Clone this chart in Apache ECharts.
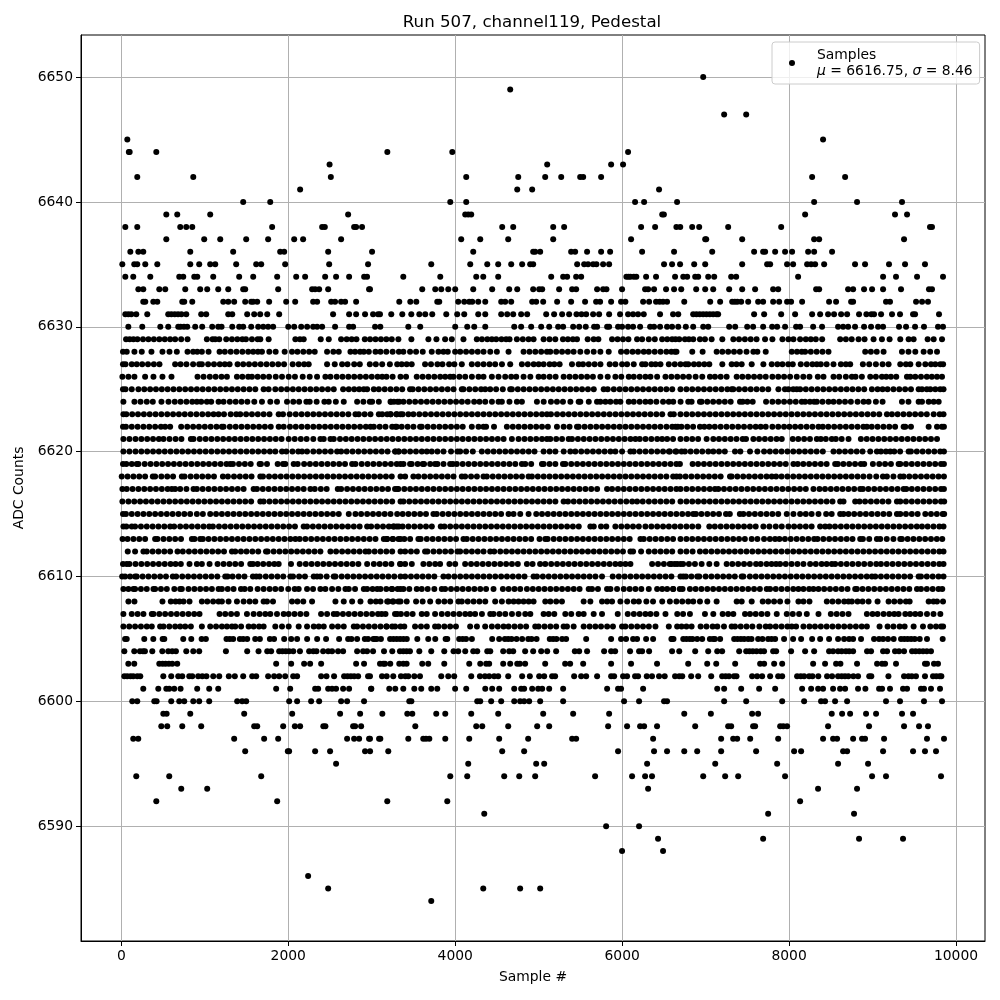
<!DOCTYPE html>
<html><head><meta charset="utf-8">
<script src="https://cdn.jsdelivr.net/npm/echarts@6/dist/echarts.min.js"></script>
<style>html,body{margin:0;padding:0;background:#fff}#c{width:1000px;height:1000px}</style>
</head><body><div id="c"></div>
<script>
const xTicks=[0,2000,4000,6000,8000,10000];
const yTicks=[6590,6600,6610,6620,6630,6640,6650];
const row6650=[6971];
const row6649=[4659];
const row6647=[7222,7486];
const row6645=[72,8407];
const row6644=[90,100,419,3187,3965,6071];
const row6643=[2495,5102,5868,6011];
const row6642=[191,862,2510,4132,4755,5078,5270,5497,5533,5748,8276,8671];
const row6641=[2142,4743,4922,6442];
const row6640=[1460,1784,3941,4132,6155,6263,6658,8300,8814,9353];
const row6639=[539,670,1065,2717,4120,4156,4192,6480,6500,8192,9269,9413];
const row6638=[48,191,706,778,850,1807,2406,2438,2789,2813,2884,4563,4695,5174,5305,6227,6395,6650,6696,6839,6923,7270,7905,9688,9712];
const row6637=[539,993,1185,1496,1759,2071,2178,2633,4072,4300,4635,5174,6107,6995,7007,7438,8300,8360,9377];
const row6636=[108,204,263,826,1340,1903,1951,2478,3004,4216,4934,4958,5018,5389,5437,5580,5748,5856,6239,6622,7079,7581,7689,7713,7833,7952,8036,8228,8300,8515];
const row6635=[12,155,191,287,431,826,933,1065,1125,1376,1616,1676,1963,2490,2956,3713,4180,4384,4515,4671,4802,4898,4934,5461,5545,5592,5652,5692,5772,5844,6502,6598,6694,6863,6995,7438,7737,7773,7976,8048,8216,8264,8312,8420,8790,8910,9197,9389,9628];
const row6634=[48,143,347,694,742,874,910,1101,1412,1580,1867,2095,2202,2442,2573,2729,2909,2944,3378,3821,4252,4336,4515,5150,5293,5341,5449,5509,6051,6075,6099,6140,6170,6287,6406,6634,6732,6779,6875,6911,7031,7103,7306,7366,8108,9126,9281,9533,9844];
const row6633=[204,263,455,526,766,945,1029,1161,1281,1460,1484,1879,2286,2322,2370,2478,2968,2979,3605,3761,3833,3917,4000,4216,4443,4647,4743,4934,5006,5042,5245,5401,5449,5700,5772,5812,5999,6275,6311,6382,6526,6622,6708,6887,6995,7091,7282,7438,7593,7809,7869,8324,8360,8707,8767,8898,8994,9126,9341,9676,9712];
const row6632=[263,287,383,431,730,754,850,1221,1281,1352,1484,1556,1580,1628,1771,1975,2083,2298,2346,2514,2561,2633,2681,2813,3330,3462,3534,3785,3809,4036,4108,4168,4204,4276,4360,4551,4599,4671,4922,4970,5054,5221,5389,5556,5688,5736,5868,5987,6039,6251,6323,6406,6450,6490,6538,6744,7055,7174,7318,7350,7380,7426,7510,7629,7689,7809,7881,7976,8024,8156,8479,8563,8743,8767,9161,9209,9521,9593,9664];
const row6631=[48,84,120,179,311,562,600,640,680,720,778,957,1017,1281,1329,1508,1592,1664,1748,1891,2537,2729,2813,2920,3016,3076,3099,3234,3366,3474,3570,3641,3725,3893,4024,4108,4276,4360,4551,4623,4695,4790,4862,5090,5185,5281,5365,5453,5513,5569,5652,5724,5844,5975,6071,6131,6191,6259,6454,6610,6672,6851,6890,6930,6970,7010,7050,7090,7130,7150,7581,7701,7905,8072,8276,8372,8467,8539,8623,8695,8838,8926,8986,9018,9102,9233,9329,9485,9509,9796];
const row6630=[84,251,467,562,682,710,750,790,885,969,1089,1161,1201,1329,1412,1460,1556,1640,1700,1759,1819,2000,2071,2155,2226,2298,2346,2406,2561,2729,2777,3040,3103,3438,3581,4000,4144,4228,4360,4707,4790,4910,5030,5126,5233,5293,5413,5485,5564,5664,5700,5820,5844,5951,5999,6071,6131,6215,6335,6382,6454,6538,6598,6672,6763,6851,6971,7031,7282,7354,7498,7569,7689,7797,7857,7952,8084,8132,8288,8395,8587,8647,8707,8790,8898,8982,9066,9126,9317,9401,9509,9616,9784,9844];
const row6629=[57,100,145,193,260,325,390,455,520,585,645,717,793,1025,1093,1125,1173,1257,1325,1390,1450,1493,1565,1633,1665,1765,2085,2140,2185,2389,2485,2633,2700,2760,2817,2917,2980,3045,3110,3175,3240,3319,3475,3679,3775,3879,3959,4099,4259,4320,4385,4439,4491,4555,4610,4651,4739,4810,4879,4939,5059,5130,5199,5291,5350,5410,5459,5587,5659,5715,5879,5945,6010,6075,6179,6239,6319,6391,6479,6540,6599,6639,6684,6752,6800,6852,6932,6992,7072,7200,7332,7400,7470,7540,7610,7712,7800,7920,7992,8052,8132,8200,8260,8320,8396,8612,8680,8750,8832,8904,9012,9112,9204,9332,9432,9492,9660,9732,9832];
const row6628=[20,65,157,245,361,493,577,665,793,860,910,965,1045,1177,1240,1310,1380,1450,1520,1580,1637,1685,1773,1849,1957,2045,2110,2180,2250,2317,2465,2540,2605,2745,2800,2860,2905,2965,3045,3105,3175,3250,3325,3379,3459,3531,3611,3719,3799,3859,3911,3999,4060,4130,4200,4270,4340,4420,4499,4639,4819,4890,4960,5030,5099,5139,5210,5280,5350,5419,5499,5580,5659,5739,5839,5987,6055,6125,6190,6259,6319,6390,6460,6530,6590,6651,6632,6840,6964,7132,7200,7270,7340,7410,7490,7572,7620,7720,8032,8095,8152,8192,8260,8330,8400,8472,8912,8980,9050,9132,9352,9430,9512,9612,9690,9772];
const row6627=[20,50,125,185,250,320,390,457,645,710,780,860,933,965,1040,1110,1180,1240,1297,1393,1460,1530,1600,1670,1740,1810,1880,1950,2053,2125,2190,2245,2465,2557,2645,2710,2790,2857,2977,3049,3125,3217,3305,3359,3419,3479,3639,3710,3787,3847,3927,3990,4079,4199,4270,4340,4411,4479,4560,4659,4799,4870,4940,5000,5059,5131,5187,5251,5399,5479,5531,5600,5670,5740,5851,5919,5999,6059,6139,6239,6279,6350,6400,6459,6559,6630,6699,6760,6792,6860,6920,6984,7044,7200,7312,7370,7432,7552,7692,7792,7860,7920,7990,8044,8140,8212,8280,8332,8380,8450,8532,8620,8680,8732,8884,8960,9040,9120,9192,9332,9400,9452,9552,9632,9700,9752,9812,9845];
const row6626=[13,85,157,285,385,493,601,913,985,1060,1130,1200,1265,1385,1450,1520,1565,1633,1700,1770,1850,1925,2005,2080,2173,2257,2345,2445,2505,2580,2650,2720,2790,2860,2930,3000,3070,3125,3177,3250,3345,3411,3539,3610,3680,3750,3820,3880,3939,3979,4050,4120,4200,4279,4339,4439,4519,4599,4671,4731,4819,4900,4999,5059,5131,5203,5299,5370,5440,5510,5580,5650,5739,5827,5919,5990,6079,6139,6210,6279,6339,6419,6519,6590,6660,6730,6800,6880,6960,7052,7112,7180,7252,7372,7440,7510,7580,7650,7720,7800,7870,7940,8012,8092,8170,8244,8344,8412,8532,8600,8680,8752,8796,8872,8972,9040,9112,9164,9220,9284,9412,9452,9512,9580,9650,9710,9772,9832];
const row6625=[20,50,125,205,275,345,415,485,555,625,695,765,835,905,975,1045,1115,1185,1255,1325,1395,1465,1535,1605,1705,1765,1845,1915,1985,2055,2125,2195,2265,2335,2405,2475,2545,2657,2725,2790,2850,2905,2945,3025,3085,3155,3225,3295,3365,3459,3491,3560,3630,3700,3770,3840,3910,3980,4079,4099,4170,4240,4310,4359,4419,4490,4570,4659,4679,4750,4820,4890,4960,5030,5100,5170,5240,5310,5380,5450,5520,5590,5660,5779,5827,5900,5970,6040,6110,6180,6250,6320,6390,6460,6530,6600,6699,6770,6840,6910,6980,7050,7120,7190,7260,7312,7332,7400,7470,7540,7610,7680,7750,7872,7950,7992,8050,8092,8132,8200,8270,8340,8410,8480,8550,8620,8690,8760,8830,8900,8992,9060,9120,9180,9250,9320,9390,9460,9552,9592,9650,9692,9752,9810,9850];
const row6624=[25,157,230,305,377,481,565,640,710,780,850,905,957,1025,1077,1165,1225,1300,1370,1440,1510,1593,1685,1785,1865,1985,2060,2130,2217,2257,2340,2433,2485,2570,2665,2825,2900,2977,3005,3085,3225,3265,3330,3231,3307,3380,3450,3520,3590,3660,3730,3800,3870,3940,4010,4080,4150,4227,4291,4360,4440,4519,4559,4650,4739,4799,4979,5060,5147,5219,5291,5380,5479,5499,5600,5699,5739,5800,5859,5927,5979,6079,6139,6210,6279,6339,6410,6490,6559,6612,6700,6792,6832,6932,6952,7020,7090,7160,7230,7300,7412,7444,7500,7564,7724,7800,7870,7940,8010,8080,8152,8192,8250,8300,8332,8400,8472,8532,8600,8670,8740,8820,8892,8952,9040,9120,9352,9430,9552,9592,9672,9732,9792];
const row6623=[25,60,130,200,270,340,410,480,550,620,690,760,830,900,970,1040,1105,1165,1230,1310,1377,1425,1495,1565,1635,1705,1775,1885,1937,2017,2090,2160,2230,2300,2370,2440,2510,2580,2650,2720,2805,2845,2915,2985,3085,3125,3185,3225,3295,3345,3227,3300,3370,3439,3499,3570,3640,3710,3780,3850,3920,3990,4060,4130,4200,4270,4340,4410,4480,4550,4620,4690,4760,4830,4900,4970,5040,5099,5147,5220,5290,5360,5430,5500,5570,5640,5710,5780,5850,5920,5990,6060,6130,6200,6270,6340,6410,6480,6579,6619,6699,6770,6840,6910,6980,7050,7120,7190,7260,7330,7400,7470,7540,7610,7680,7750,7820,7890,7960,8030,8100,8170,8240,8310,8380,8450,8520,8590,8660,8730,8800,8870,8940,9010,9080,9172,9232,9300,9370,9440,9510,9580,9650,9732,9804,9850];
const row6622=[20,55,125,195,265,335,405,475,525,585,717,790,860,930,1000,1070,1140,1205,1225,1300,1370,1440,1510,1580,1650,1720,1790,1885,1945,2020,2090,2160,2230,2300,2370,2440,2510,2580,2650,2720,2790,2860,2930,2985,3025,3095,3165,3245,3285,3299,3359,3430,3500,3579,3599,3670,3740,3810,3880,3950,4020,4090,4199,4279,4339,4370,4465,4619,4690,4760,4830,4900,4970,5040,5110,5219,5299,5370,5459,5479,5550,5620,5690,5760,5830,5900,5970,6040,6110,6180,6250,6320,6390,6459,6531,6600,6667,6640,6710,6780,6850,6932,6984,7044,7110,7180,7250,7320,7390,7460,7532,7600,7660,7720,7800,7870,7940,8004,8072,8140,8210,8280,8352,8404,8470,8540,8610,8680,8750,8820,8890,8932,8990,9060,9130,9200,9270,9372,9392,9460,9672,9772,9830,9855];
const row6621=[25,97,170,240,310,380,450,505,577,650,720,833,865,940,1010,1080,1150,1220,1290,1360,1430,1500,1570,1640,1710,1780,1850,1920,2005,2077,2150,2220,2300,2385,2425,2505,2545,2620,2690,2760,2830,2900,2970,3040,3110,3180,3250,3320,3390,3460,3530,3600,3670,3740,3810,3880,3950,4020,4090,4160,4230,4300,4370,4440,4510,4580,4679,4759,4830,4900,4970,5040,5099,5139,5210,5280,5359,5399,5470,5540,5610,5680,5750,5820,5890,5960,6030,6100,6159,6211,6280,6350,6420,6479,6539,6610,6699,6770,6840,6910,7012,7092,7160,7230,7300,7370,7444,7484,7572,7640,7710,7780,7850,7912,8044,8110,8180,8250,8332,8380,8440,8512,8560,8630,8712,8860,8930,9000,9070,9140,9210,9280,9350,9420,9490,9560,9630,9700,9772];
const row6620=[25,97,170,240,310,380,450,520,590,660,730,800,870,940,1010,1080,1150,1220,1290,1360,1430,1500,1570,1640,1710,1780,1845,1925,1977,2050,2120,2165,2225,2300,2370,2440,2510,2585,2633,2700,2770,2840,2910,2980,3050,3120,3190,3285,3325,3279,3319,3390,3460,3530,3600,3660,3719,3787,3860,3950,4027,4059,4130,4211,4319,4390,4460,4530,4600,4670,4740,4810,4880,4950,5059,5131,5200,5300,5379,5439,5510,5580,5650,5720,5790,5860,5919,5999,6099,6139,6210,6280,6350,6420,6490,6560,6639,6572,6650,6712,6752,6820,6890,6960,7032,7092,7160,7230,7352,7416,7532,7620,7700,7770,7840,7910,7980,8050,8120,8190,8260,8330,8404,8532,8600,8670,8740,8810,8880,8972,9052,9100,9160,9212,9260,9330,9432,9460,9530,9600,9670,9740,9810,9855];
const row6619=[20,60,125,185,205,280,350,420,490,560,630,700,770,840,910,980,1050,1120,1190,1260,1305,1337,1410,1480,1550,1657,1673,1745,1873,1937,1965,2065,2113,2190,2260,2330,2400,2470,2540,2610,2680,2765,2805,2880,2950,3020,3090,3160,3230,3300,3345,3380,3459,3479,3550,3611,3627,3700,3759,3787,3860,3939,3971,4019,4090,4160,4230,4300,4370,4440,4510,4580,4650,4720,4799,4839,4910,5039,5059,5130,5200,5291,5319,5390,5460,5530,5600,5670,5740,5810,5880,5950,6020,6090,6160,6230,6300,6370,6440,6510,6580,6650,6692,6844,6910,6980,7050,7120,7190,7260,7330,7400,7470,7540,7610,7680,7750,7820,7890,7960,8052,8104,8170,8240,8310,8380,8450,8552,8584,8650,8720,8790,8860,8900,9004,9080,9150,9220,9312,9332,9400,9470,9540,9610,9680,9750,9820,9855];
const row6618=[5,75,145,215,285,377,405,480,550,620,725,757,830,900,970,1040,1110,1217,1277,1350,1420,1490,1560,1665,1697,1770,1840,1910,1980,2050,2120,2190,2260,2330,2400,2470,2540,2610,2680,2750,2820,2890,2960,3030,3100,3170,3240,3345,3400,3499,3559,3630,3700,3770,3840,3910,3980,4079,4119,4190,4260,4339,4379,4450,4520,4590,4660,4730,4800,4879,4919,4990,5060,5130,5200,5270,5340,5410,5480,5550,5620,5690,5760,5830,5900,5970,6040,6110,6180,6250,6320,6390,6460,6530,6611,6651,6692,6760,6830,6900,6970,7040,7110,7180,7292,7312,7380,7450,7520,7590,7660,7730,7792,7844,7910,7980,8050,8120,8190,8260,8330,8400,8470,8540,8610,8680,8750,8820,8890,8964,9044,9124,9172,9250,9332,9372,9440,9510,9580,9650,9720,9790,9855];
const row6617=[13,65,135,205,275,345,415,485,555,605,645,705,780,865,905,975,1045,1115,1185,1255,1325,1395,1465,1585,1625,1695,1765,1835,1905,1975,2045,2115,2185,2265,2317,2390,2460,2593,2633,2705,2775,2845,2915,2985,3055,3125,3195,3305,3279,3319,3390,3460,3530,3600,3670,3740,3810,3880,3950,4020,4090,4160,4230,4300,4370,4440,4510,4580,4650,4720,4790,4860,4930,5000,5070,5140,5210,5280,5350,5420,5490,5560,5630,5700,5819,5879,5950,6020,6090,6160,6230,6300,6370,6440,6510,6580,6650,6699,6770,6840,6910,6980,7050,7112,7152,7220,7290,7360,7430,7500,7570,7640,7710,7780,7850,7920,7990,8060,8130,8200,8292,8364,8430,8500,8570,8640,8710,8780,8852,8884,8950,9020,9090,9160,9230,9300,9372,9404,9470,9540,9610,9680,9750,9820,9855];
const row6616=[13,85,155,225,295,365,435,505,575,645,715,785,855,925,995,1065,1135,1205,1275,1345,1415,1485,1555,1665,1705,1775,1845,1915,1985,2055,2125,2195,2265,2335,2405,2475,2545,2615,2685,2755,2825,2895,2965,3035,3105,3175,3245,3345,3380,3450,3520,3590,3660,3730,3800,3870,3940,4010,4080,4150,4220,4290,4360,4430,4500,4570,4640,4710,4780,4850,4920,4990,5060,5130,5200,5299,5351,5420,5490,5560,5630,5700,5770,5840,5910,5980,6050,6120,6179,6247,6320,6390,6460,6530,6600,6699,6770,6840,6910,6980,7050,7120,7190,7260,7330,7400,7470,7540,7610,7680,7750,7820,7890,7960,8030,8100,8170,8240,8310,8380,8450,8520,8612,8652,8792,8844,8910,8980,9050,9120,9190,9292,9332,9400,9470,9540,9610,9680,9750,9820,9858];
const row6615=[20,55,125,195,265,335,405,475,545,615,685,755,825,905,977,1065,1135,1205,1275,1345,1415,1485,1555,1625,1695,1765,1835,1905,1975,2045,2115,2185,2255,2325,2395,2465,2535,2605,2725,2805,2873,2945,3015,3085,3155,3225,3305,3371,3440,3510,3580,3650,3739,3779,3850,3920,3990,4060,4130,4200,4270,4340,4410,4480,4550,4639,4699,4779,4879,4971,5040,5110,5180,5250,5320,5390,5460,5530,5600,5670,5740,5810,5880,5950,6020,6090,6160,6230,6300,6370,6440,6510,6580,6650,6720,6790,6852,6884,6950,7020,7090,7160,7244,7290,7410,7452,7520,7590,7660,7730,7800,7870,7972,8052,8132,8200,8270,8352,8444,8510,8612,8652,8712,8780,8850,8920,8990,9060,9130,9200,9292,9332,9400,9470,9540,9632,9700,9770,9840,9858];
const row6614=[25,60,125,165,235,305,375,445,515,585,633,705,775,845,915,985,1053,1097,1170,1240,1310,1380,1450,1520,1590,1660,1730,1800,1870,1940,2010,2080,2185,2225,2295,2365,2435,2505,2575,2645,2715,2785,2855,2945,2993,3065,3135,3205,3265,3325,3259,3299,3370,3440,3510,3580,3650,3720,3827,3871,3940,4010,4080,4150,4220,4290,4360,4430,4500,4570,4640,4710,4780,4850,4920,4990,5060,5130,5200,5270,5340,5410,5480,5619,5660,5747,5810,5919,5990,6060,6130,6200,6279,6350,6420,6490,6560,6630,6699,6770,6840,6912,7044,7110,7180,7250,7320,7390,7460,7530,7600,7692,7764,7840,7912,7992,8060,8130,8200,8270,8372,8432,8484,8550,8620,8690,8760,8830,8900,8970,9040,9110,9180,9250,9320,9390,9460,9530,9592,9660,9730,9800,9850];
const row6613=[15,75,145,215,285,405,433,505,575,645,715,845,877,945,977,1045,1115,1185,1255,1325,1395,1465,1535,1605,1675,1745,1815,1885,1955,2025,2085,2137,2205,2275,2345,2415,2485,2555,2625,2695,2765,2835,2905,2975,3045,3145,3185,3255,3345,3179,3250,3320,3390,3460,3559,3587,3660,3730,3800,3870,3940,4010,4099,4139,4210,4280,4350,4420,4490,4560,4630,4700,4770,4840,4910,5010,5079,5107,5180,5250,5320,5390,5460,5530,5600,5670,5740,5810,5880,5950,6020,6090,6219,6259,6330,6400,6470,6540,6610,6699,6770,6840,6910,6980,7050,7120,7190,7260,7330,7400,7470,7552,7620,7700,7770,7832,7884,7950,8020,8090,8160,8230,8300,8340,8410,8480,8550,8620,8690,8760,8852,8884,8960,9052,9092,9170,9250,9332,9352,9420,9490,9560,9630,9700,9770,9835];
const row6612=[77,165,265,305,375,445,515,585,673,737,810,880,950,1020,1090,1160,1230,1325,1365,1433,1500,1570,1640,1733,1753,1825,1895,1965,2035,2105,2175,2245,2315,2385,2505,2573,2645,2715,2785,2855,2925,2965,3035,3105,3175,3245,3345,3400,3470,3540,3639,3667,3740,3810,3880,3950,4027,4059,4130,4200,4270,4340,4419,4467,4540,4610,4680,4750,4820,4890,4960,5030,5100,5170,5240,5310,5380,5450,5520,5590,5660,5730,5800,5870,5940,6010,6099,6131,6227,6319,6390,6460,6530,6600,6699,6770,6844,6932,7000,7070,7140,7210,7280,7350,7420,7490,7560,7630,7700,7770,7840,7910,7980,8050,8120,8190,8260,8330,8400,8470,8540,8610,8680,8750,8820,8890,8960,9030,9100,9170,9240,9310,9380,9450,9520,9590,9660,9730,9800,9850];
const row6611=[20,65,97,170,240,310,380,450,520,590,650,713,817,905,965,1057,1153,1225,1295,1365,1435,1545,1577,1633,1700,1770,1833,1885,2033,2137,2210,2280,2350,2420,2490,2560,2630,2700,2770,2840,2945,3025,3095,3165,3235,3345,3339,3400,3480,3619,3690,3760,3819,3931,4000,4119,4190,4259,4330,4400,4470,4540,4610,4680,4750,4859,4927,5017,5079,5150,5220,5290,5360,5430,5500,5570,5640,5710,5780,5850,5919,5979,6040,6099,6359,6430,6500,6570,6630,6699,6592,6660,6730,6800,6872,6952,7044,7132,7252,7320,7390,7460,7530,7604,7660,7730,7790,7844,7892,7960,8030,8100,8172,8252,8320,8390,8450,8512,8552,8620,8690,8760,8830,8900,8972,9044,9100,9170,9240,9310,9380,9450,9520,9590,9660,9730,9800,9850];
const row6610=[10,45,105,165,185,255,325,395,465,535,617,657,730,800,870,940,1010,1080,1150,1245,1273,1333,1405,1475,1577,1617,1657,1730,1800,1870,1940,2025,2057,2130,2200,2305,2345,2385,2460,2545,2565,2640,2710,2780,2850,2920,2990,3060,3130,3200,3270,3345,3400,3470,3540,3610,3680,3750,3859,3919,3990,4060,4130,4200,4270,4340,4410,4480,4550,4620,4690,4760,4830,4939,4979,5050,5120,5190,5260,5330,5400,5470,5540,5610,5680,5759,5887,5960,6030,6100,6170,6240,6310,6380,6450,6520,6590,6699,6732,6764,6830,6900,6924,7000,7070,7140,7210,7280,7350,7432,7452,7530,7600,7670,7740,7810,7880,7950,8020,8090,8160,8230,8300,8370,8440,8510,8580,8650,8720,8790,8860,8930,8992,9032,9100,9170,9240,9310,9380,9450,9552,9580,9650,9720,9790,9850];
const row6609=[25,85,145,165,235,305,385,405,475,545,635,705,725,805,875,945,1015,1085,1165,1205,1275,1345,1433,1477,1545,1633,1705,1777,1845,1915,2000,2077,2125,2225,2297,2385,2445,2525,2600,2685,2725,2800,2905,2945,3010,3065,3105,3175,3245,3345,3239,3310,3380,3450,3539,3599,3670,3750,3839,3879,3950,4020,4090,4160,4230,4300,4370,4459,4571,4640,4710,4779,4859,4930,5000,5070,5140,5210,5280,5350,5420,5490,5599,5639,5710,5819,5860,5939,6019,6090,6159,6230,6319,6419,6480,6539,6610,6690,6612,6724,6812,6880,6950,7020,7090,7160,7230,7300,7370,7440,7510,7580,7650,7732,7772,7840,7910,7980,8050,8112,8172,8240,8292,8352,8420,8490,8560,8630,8700,8792,8812,8880,8950,9020,9090,9160,9230,9300,9370,9440,9532,9580,9650,9720,9790,9835];
const row6608=[85,157,493,593,650,697,745,817,965,1030,1100,1165,1205,1285,1385,1465,1537,1605,1705,1745,1817,2045,2110,2180,2285,2565,2665,2765,2865,2985,3050,3105,3185,3250,3345,3199,3260,3319,3419,3531,3610,3700,3799,3870,3940,4039,4079,4150,4220,4290,4360,4479,4559,4640,4700,4759,4819,4880,4939,5079,5140,5210,5279,5539,5619,5759,5820,5879,5979,6060,6139,6200,6290,6370,6480,6572,6650,6720,6792,6852,6932,7020,7132,7372,7432,7552,7684,7750,7820,7892,7980,8112,8172,8244,8452,8520,8590,8660,8712,8752,8820,8880,8952,9060,9192,9260,9330,9400,9444,9672,9730,9772,9844];
const row6607=[25,125,195,265,365,385,455,525,595,665,735,805,873,937,1177,1245,1315,1385,1505,1585,1657,1725,1785,1865,1945,2005,2075,2145,2217,2393,2465,2545,2585,2655,2725,2795,2865,2935,3005,3075,3165,3305,3119,3279,3350,3420,3490,3599,3659,3759,3839,3910,3980,4050,4120,4179,4239,4320,4420,4459,4530,4600,4680,4759,4839,4900,5059,5120,5187,5319,5390,5479,5539,5659,5759,5947,6067,6140,6210,6279,6339,6410,6519,6660,6730,6812,6992,7092,7204,7270,7332,7472,7532,7600,7670,7740,7852,7972,8044,8120,8212,8352,8500,8570,8640,8712,8932,9000,9060,9132,9200,9260,9312,9392,9450,9512,9572,9652,9730,9812];
const row6606=[25,95,165,235,305,365,465,505,575,645,705,765,833,965,1065,1135,1205,1265,1325,1365,1435,1525,1585,1650,1705,1845,1925,2005,2125,2225,2305,2365,2425,2525,2595,2665,2785,2825,2895,2965,3035,3105,3175,3245,3345,3179,3280,3390,3519,3590,3660,3759,3799,3870,3939,4009,4179,4260,4359,4439,4510,4579,4639,4710,4780,4850,4959,4999,5070,5140,5210,5299,5339,5419,5539,5610,5679,5747,5820,5890,5999,6039,6110,6180,6250,6320,6399,6559,6659,6712,6770,6832,6940,7010,7084,7140,7220,7312,7352,7420,7490,7560,7644,7720,7772,7840,7910,7980,8032,8084,8172,8244,8310,8380,8450,8520,8590,8660,8730,8800,8870,8932,9084,9180,9250,9324,9384,9492,9604,9692,9760,9820,9845];
const row6605=[45,65,275,383,495,515,742,838,962,1013,1260,1300,1340,1420,1460,1508,1604,1660,1780,1830,1951,2035,2106,2226,2346,2453,2609,2717,2757,2825,2917,2956,3036,3020,3060,3110,3220,3260,3300,3340,3380,3420,3546,3677,3761,3885,3905,4048,4090,4130,4200,4443,4527,4595,4635,4675,4735,4802,4875,4915,4975,5133,5173,5213,5281,5329,5569,5868,5987,6047,6131,6179,6287,6371,6598,6590,6615,6732,6770,6810,6843,6899,6959,7051,7091,7111,7174,7342,7382,7422,7462,7510,7550,7629,7681,7749,7790,7833,7940,8048,8144,8276,8372,8479,8587,8659,8719,8767,8862,9018,9078,9126,9185,9253,9341,9380,9420,9462,9505,9565,9652,9840];
const row6604=[36,155,223,260,283,371,491,562,610,654,778,862,933,1253,1508,1644,1748,1795,1891,1930,1970,2010,2060,2140,2250,2300,2338,2418,2478,2525,2597,2657,2825,2897,2944,3016,3147,3246,3338,3378,3418,3458,3570,3713,3869,3980,4036,4120,4216,4264,4384,4420,4575,4647,4695,4838,4934,5030,5102,5209,5433,5485,5580,5784,5868,5916,6095,6203,6239,6323,6598,6684,6875,7031,7139,7198,7402,7486,7525,7565,7610,7660,7700,7809,7845,8024,8192,8300,8479,8527,8587,8630,8680,8720,8767,8934,8982,9126,9174,9269,9317,9377,9473,9515,9560,9605,9650,9700];
const row6603=[84,155,455,495,530,570,610,670,1855,2035,2190,2262,2394,2813,2908,3099,3139,3159,3222,3330,3378,3418,3605,3677,3869,4168,4300,4371,4407,4575,4659,4743,4775,4838,5078,5317,5377,5533,5868,6107,6418,6791,7019,7127,7354,7653,7701,7821,7917,8288,8431,8563,8615,8814,9054,9114,9150,9281,9628,9652,9736,9784];
const row6602=[36,70,110,143,191,227,503,598,682,730,814,850,921,970,1020,1101,1173,1288,1360,1460,1568,1616,1759,1831,1891,1963,2059,2106,2394,2458,2549,2669,2710,2750,2790,2837,2956,2979,3123,3179,3258,3350,3402,3438,3510,3578,3833,3917,3988,4192,4296,4356,4407,4467,4515,4635,4802,4894,5006,5066,5161,5197,5425,5509,5569,5700,5868,5904,6011,6059,6155,6191,6295,6358,6442,6510,6634,6684,6720,6827,6911,7067,7198,7240,7280,7340,7370,7557,7617,7677,7773,7869,7917,8096,8140,8180,8240,8280,8350,8455,8515,8587,8630,8670,8710,8770,8826,8960,8985,9190,9377,9430,9470,9520,9628,9724,9764,9804,9824];
const row6601=[263,443,539,574,634,710,909,1053,1161,1855,2023,2322,2358,2478,2525,2573,2657,2729,2992,2995,3210,3282,3378,3510,3593,3713,3785,3999,4132,4360,4443,4527,4707,4790,4826,4922,4994,5042,5126,5293,5820,5951,5987,6251,7139,7222,7426,7641,7833,8156,8264,8348,8407,8527,8611,8671,8826,8914,9078,9114,9209,9365,9413,9580,9616,9700,9808];
const row6600=[131,191,395,423,598,694,754,862,933,1053,1388,1448,1496,2011,2106,2274,2370,2633,2705,2908,3450,3475,4264,4300,4431,4551,4707,4778,4826,4886,5018,5293,6023,6203,6502,6538,7222,7486,7917,8180,8383,8431,8551,8695,9161,9329,9616,9832];
const row6599=[503,543,826,1472,2047,2621,2861,3127,3426,3486,3773,3881,4192,4515,5054,5413,5844,6744,7063,7557,7629,8511,8635,8731,8922,9042,9353,9485];
const row6598=[479,550,730,957,1592,1628,1939,2079,2142,2420,2445,2777,2801,2873,3522,4252,4324,4635,4982,5126,5832,6059,6215,6263,6418,6875,7270,7306,7569,7593,7893,7930,7976,8467,8958,9377,9557,9664];
const row6597=[143,203,1352,1711,1879,2705,2789,2849,2968,3088,2979,3103,3438,3617,3650,3690,3881,4168,4527,4874,5401,5449,6371,7186,7330,7378,7534,7869,8407,8527,8575,8767,8874,8910,9138,9652,9856];
const row6596=[1484,1995,2010,2322,2501,2920,2980,3198,4563,4826,5951,6382,6538,6744,6899,7186,7605,8060,8144,8647,8695,9126,9485,9628,9760];
const row6595=[2573,4156,4970,5066,6299,7115,7857,8587,8946];
const row6594=[179,574,1676,3941,4144,4587,4767,4958,5676,6119,6275,6358,6971,7234,7390,7952,8994,9161,9820];
const row6593=[718,1029,6311,8347,8814];
const row6592=[419,1867,3186,3905,8132];
const row6591=[4348,7749,8778];
const row6590=[5808,6203];
const row6589=[6430,7689,8838,9365];
const row6588=[5999,6490];
const row6586=[2238];
const row6585=[2478,4336,4778,5018];
const row6584=[3713];

const rowTable=[[6650,row6650],[6649,row6649],[6647,row6647],[6645,row6645],[6644,row6644],[6643,row6643],[6642,row6642],[6641,row6641],[6640,row6640],[6639,row6639],[6638,row6638],[6637,row6637],[6636,row6636],[6635,row6635],[6634,row6634],[6633,row6633],[6632,row6632],[6631,row6631],[6630,row6630],[6629,row6629],[6628,row6628],[6627,row6627],[6626,row6626],[6625,row6625],[6624,row6624],[6623,row6623],[6622,row6622],[6621,row6621],[6620,row6620],[6619,row6619],[6618,row6618],[6617,row6617],[6616,row6616],[6615,row6615],[6614,row6614],[6613,row6613],[6612,row6612],[6611,row6611],[6610,row6610],[6609,row6609],[6608,row6608],[6607,row6607],[6606,row6606],[6605,row6605],[6604,row6604],[6603,row6603],[6602,row6602],[6601,row6601],[6600,row6600],[6599,row6599],[6598,row6598],[6597,row6597],[6596,row6596],[6595,row6595],[6594,row6594],[6593,row6593],[6592,row6592],[6591,row6591],[6590,row6590],[6589,row6589],[6588,row6588],[6586,row6586],[6585,row6585],[6584,row6584]];
const points=[];
rowTable.forEach(([y,xs])=>xs.forEach(x=>points.push([x,y])));

const font='DejaVu Sans';
const fs=13.89;
const chart=echarts.init(document.getElementById('c'),null,{renderer:'canvas'});
const axisCommon={
  type:'value',scale:true,nameLocation:'middle',
  nameTextStyle:{fontFamily:font,fontSize:fs,color:'#000'},
  axisLine:{show:true,onZero:false,lineStyle:{color:'#000',width:1}},
  splitLine:{show:true,lineStyle:{color:'#b0b0b0',width:1}},
};
chart.setOption({
  animation:false,
  backgroundColor:'#fff',
  title:{text:'Run 507, channel119, Pedestal',left:532,top:14,padding:0,textAlign:'center',
    textStyle:{fontFamily:font,fontSize:16.67,fontWeight:'normal',color:'#000'}},
  grid:{left:81,right:15,top:35,bottom:59,show:true,borderColor:'#000',borderWidth:1,backgroundColor:'transparent'},
  xAxis:Object.assign({},axisCommon,{min:-483,max:10347,name:'Sample #',nameGap:29,
    axisTick:{show:true,length:5,lineStyle:{color:'#000',width:1},customValues:xTicks},
    axisLabel:{fontFamily:font,fontSize:fs,color:'#000',margin:8,customValues:xTicks,formatter:v=>String(v)}}),
  yAxis:Object.assign({},axisCommon,{min:6580.8,max:6653.37,name:'ADC Counts',nameGap:51,
    axisTick:{show:true,length:5,lineStyle:{color:'#000',width:1},customValues:yTicks},
    axisLabel:{fontFamily:font,fontSize:fs,color:'#000',margin:8,customValues:yTicks,formatter:v=>String(v)}}),
  legend:{show:true,left:772,top:42,orient:'vertical',padding:[6,7,6,17],itemWidth:40,itemHeight:6,
    backgroundColor:'rgba(255,255,255,0.8)',borderColor:'#ccc',borderWidth:1,borderRadius:3,
    icon:'circle',
    data:[{name:'Samples'}],
    formatter:()=>'{t|Samples}\n{i|μ}{t| = 6616.75, }{i|σ}{t| = 8.46}',
    textStyle:{fontFamily:font,fontSize:fs,color:'#000',
      rich:{t:{fontFamily:font,fontSize:fs,color:'#000',lineHeight:16},
            i:{fontFamily:font,fontSize:fs,fontStyle:'italic',color:'#000',lineHeight:16}}}},
  series:[{name:'Samples',type:'scatter',data:points,symbol:'circle',symbolSize:6,
    itemStyle:{color:'#000',opacity:1},large:false,progressive:0,clip:true,z:3}]
});
</script></body></html>
